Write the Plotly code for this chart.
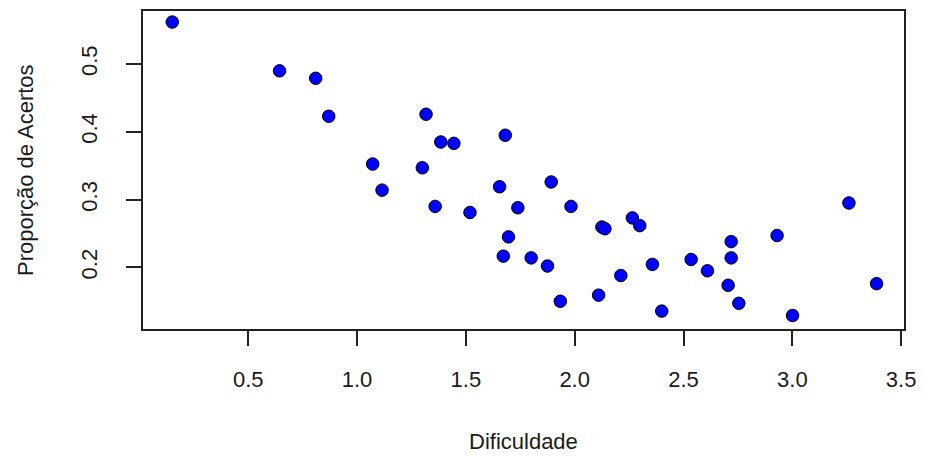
import plotly.graph_objects as go

dificuldade = [0.151, 0.644, 0.810, 0.870, 1.072, 1.115, 1.300, 1.317, 1.359, 1.385,
               1.445, 1.519, 1.655, 1.672, 1.681, 1.696, 1.739, 1.800, 1.875, 1.892,
               1.934, 1.983, 2.110, 2.125, 2.139, 2.212, 2.265, 2.299, 2.357, 2.400,
               2.535, 2.610, 2.705, 2.719, 2.719, 2.754, 2.930, 3.001, 3.260, 3.387]
proporcao = [0.562, 0.490, 0.479, 0.423, 0.3525, 0.314, 0.347, 0.426, 0.290, 0.385,
             0.383, 0.281, 0.319, 0.2166, 0.395, 0.245, 0.288, 0.214, 0.202, 0.326,
             0.150, 0.290, 0.159, 0.2595, 0.257, 0.188, 0.273, 0.2616, 0.2044, 0.1355,
             0.2117, 0.195, 0.1736, 0.238, 0.214, 0.147, 0.247, 0.129, 0.295, 0.176]

x_ticks = [0.5, 1.0, 1.5, 2.0, 2.5, 3.0, 3.5]
y_ticks = [0.2, 0.3, 0.4, 0.5]

FONT = "Liberation Sans, Arial, sans-serif"
TXT = "#1a1a1a"

fig = go.Figure()
fig.add_trace(go.Scatter(
    x=dificuldade, y=proporcao, mode="markers",
    marker=dict(size=12.5, color="#0000FF", line=dict(color="black", width=1)),
    showlegend=False, hoverinfo="skip"))

axis_common = dict(showgrid=False, zeroline=False, showline=True, mirror=True,
                   linecolor="#222222", linewidth=1.5, ticks="outside", ticklen=15,
                   tickwidth=1.5, tickcolor="#222222",
                   tickfont=dict(family=FONT, size=22, color=TXT))

fig.update_layout(
    width=925, height=457,
    margin=dict(l=143, r=17, t=9, b=128),
    plot_bgcolor="white", paper_bgcolor="white",
    xaxis=dict(range=[0.0167, 3.513], tickvals=x_ticks,
               ticktext=[f"{v:.1f}" for v in x_ticks], ticklabelstandoff=15,
               **axis_common),
    yaxis=dict(range=[0.1091, 0.5783], tickvals=y_ticks,
               ticktext=[f"{v:.1f}" for v in y_ticks], tickangle=-90,
               ticklabelstandoff=20, **axis_common),
    annotations=[
        dict(text="Dificuldade", xref="paper", yref="paper", x=0.5, y=0,
             xanchor="center", yanchor="middle", yshift=-112, showarrow=False,
             font=dict(family=FONT, size=22, color=TXT)),
        dict(text="Proporção de Acertos", xref="paper", yref="paper", x=0, y=0.5,
             xanchor="center", yanchor="middle", xshift=-118, textangle=-90,
             showarrow=False, font=dict(family=FONT, size=22, color=TXT)),
    ],
)

fig.write_html("out.html")
